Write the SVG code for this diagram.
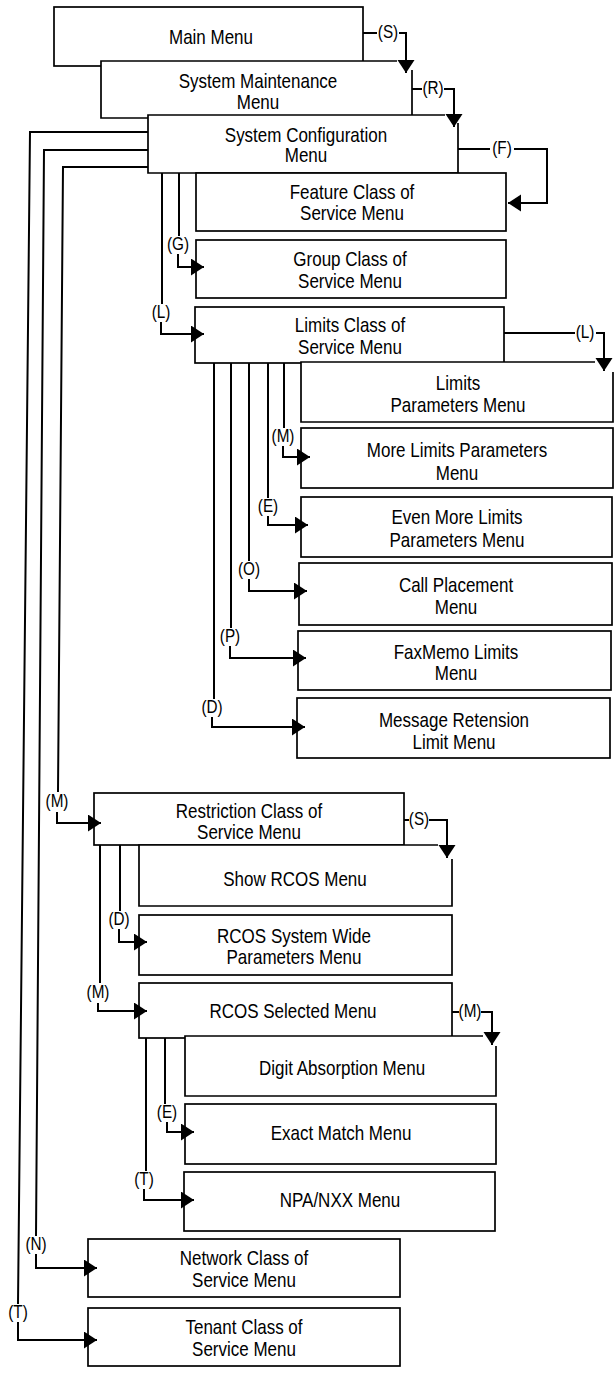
<svg xmlns="http://www.w3.org/2000/svg" width="615" height="1374" viewBox="0 0 615 1374">
<style>
.box{fill:#fff;stroke:#000;stroke-width:1.7}
.c{fill:none;stroke:#000;stroke-width:2}
.t{font-family:"Liberation Sans",Arial,sans-serif;font-size:20px;text-anchor:middle;fill:#000}
.l{font-family:"Liberation Sans",Arial,sans-serif;font-size:18px;text-anchor:middle;fill:#000}
</style>
<defs>
<marker id="ah" markerUnits="userSpaceOnUse" markerWidth="15" markerHeight="18" refX="13" refY="8.5" orient="auto">
<path d="M0,0 L13,8.5 L0,17 z" fill="#000"/>
</marker>
</defs>
<rect width="615" height="1374" fill="#fff"/>

<g id="main-menu"><rect class="box" x="54" y="7" width="309" height="59"/><text class="t" transform="translate(211,44) scale(0.85,1)">Main Menu</text></g>
<g id="system-maintenance"><path class="box" d="M412,70 V118 H101 V61 H397"/><text class="t" transform="translate(258,88) scale(0.85,1)">System Maintenance</text><text class="t" transform="translate(258,109) scale(0.85,1)">Menu</text></g>
<g id="system-configuration"><path class="box" d="M458,123 V173 H148 V115 H445"/><text class="t" transform="translate(306,142) scale(0.85,1)">System Configuration</text><text class="t" transform="translate(306,162) scale(0.85,1)">Menu</text></g>
<g id="feature-cos"><rect class="box" x="196" y="173" width="310" height="58"/><text class="t" transform="translate(352,199) scale(0.85,1)">Feature Class of</text><text class="t" transform="translate(352,220) scale(0.85,1)">Service Menu</text></g>
<g id="group-cos"><rect class="box" x="196" y="240" width="310" height="58"/><text class="t" transform="translate(350,266) scale(0.85,1)">Group Class of</text><text class="t" transform="translate(350,288) scale(0.85,1)">Service Menu</text></g>
<g id="limits-cos"><rect class="box" x="195" y="307" width="309" height="56"/><text class="t" transform="translate(350,332) scale(0.85,1)">Limits Class of</text><text class="t" transform="translate(350,354) scale(0.85,1)">Service Menu</text></g>
<g id="limits-parameters"><path class="box" d="M613,372 V422 H301 V362 H595"/><text class="t" transform="translate(458,390) scale(0.85,1)">Limits</text><text class="t" transform="translate(458,412) scale(0.85,1)">Parameters Menu</text></g>
<g id="more-limits"><rect class="box" x="301" y="428" width="312" height="60"/><text class="t" transform="translate(457,457) scale(0.85,1)">More Limits Parameters</text><text class="t" transform="translate(457,480) scale(0.85,1)">Menu</text></g>
<g id="even-more-limits"><rect class="box" x="301" y="497" width="311" height="60"/><text class="t" transform="translate(457,524) scale(0.85,1)">Even More Limits</text><text class="t" transform="translate(457,547) scale(0.85,1)">Parameters Menu</text></g>
<g id="call-placement"><rect class="box" x="299" y="563" width="313" height="62"/><text class="t" transform="translate(456,592) scale(0.85,1)">Call Placement</text><text class="t" transform="translate(456,614) scale(0.85,1)">Menu</text></g>
<g id="faxmemo-limits"><rect class="box" x="298" y="631" width="313" height="59"/><text class="t" transform="translate(456,659) scale(0.85,1)">FaxMemo Limits</text><text class="t" transform="translate(456,680) scale(0.85,1)">Menu</text></g>
<g id="message-retension"><rect class="box" x="297" y="698" width="313" height="60"/><text class="t" transform="translate(454,727) scale(0.85,1)">Message Retension</text><text class="t" transform="translate(454,749) scale(0.85,1)">Limit Menu</text></g>
<g id="restriction-cos"><rect class="box" x="94" y="793" width="310" height="52"/><text class="t" transform="translate(249,818) scale(0.85,1)">Restriction Class of</text><text class="t" transform="translate(249,839) scale(0.85,1)">Service Menu</text></g>
<g id="show-rcos"><path class="box" d="M452,859 V906 H139 V845 H438"/><text class="t" transform="translate(295,886) scale(0.85,1)">Show RCOS Menu</text></g>
<g id="rcos-system-wide"><rect class="box" x="139" y="915" width="313" height="60"/><text class="t" transform="translate(294,943) scale(0.85,1)">RCOS System Wide</text><text class="t" transform="translate(294,964) scale(0.85,1)">Parameters Menu</text></g>
<g id="rcos-selected"><rect class="box" x="139" y="983" width="313" height="55"/><text class="t" transform="translate(293,1018) scale(0.85,1)">RCOS Selected Menu</text></g>
<g id="digit-absorption"><path class="box" d="M496,1046 V1096 H185 V1036 H483"/><text class="t" transform="translate(342,1075) scale(0.85,1)">Digit Absorption Menu</text></g>
<g id="exact-match"><rect class="box" x="185" y="1104" width="311" height="60"/><text class="t" transform="translate(341,1140) scale(0.85,1)">Exact Match Menu</text></g>
<g id="npa-nxx"><rect class="box" x="184" y="1172" width="311" height="59"/><text class="t" transform="translate(340,1207) scale(0.85,1)">NPA/NXX Menu</text></g>
<g id="network-cos"><rect class="box" x="88" y="1239" width="312" height="58"/><text class="t" transform="translate(244,1265) scale(0.85,1)">Network Class of</text><text class="t" transform="translate(244,1287) scale(0.85,1)">Service Menu</text></g>
<g id="tenant-cos"><rect class="box" x="88" y="1308" width="312" height="58"/><text class="t" transform="translate(244,1334) scale(0.85,1)">Tenant Class of</text><text class="t" transform="translate(244,1356) scale(0.85,1)">Service Menu</text></g>

<g id="connectors">
<path class="c" d="M363,33 H377"/><path class="c" d="M399,33 H406 V73" marker-end="url(#ah)"/>
<text class="l" transform="translate(388,38) scale(0.85,1)">(S)</text>
<path class="c" d="M412,89 H422"/><path class="c" d="M444,89 H454 V127" marker-end="url(#ah)"/>
<text class="l" transform="translate(433,94) scale(0.85,1)">(R)</text>
<path class="c" d="M458,149 H490"/><path class="c" d="M514,149 H547 V203 H508" marker-end="url(#ah)"/>
<text class="l" transform="translate(502,154) scale(0.85,1)">(F)</text>
<path class="c" d="M179,173 V236"/><path class="c" d="M178,254 V267 H204" marker-end="url(#ah)"/>
<text class="l" transform="translate(178,250) scale(0.85,1)">(G)</text>
<path class="c" d="M162,173 V304"/><path class="c" d="M161,322 V334 H204" marker-end="url(#ah)"/>
<text class="l" transform="translate(161,318) scale(0.85,1)">(L)</text>
<path class="c" d="M504,333 H575"/><path class="c" d="M596,333 H604 V371" marker-end="url(#ah)"/>
<text class="l" transform="translate(585,338) scale(0.85,1)">(L)</text>
<path class="c" d="M284,363 V428"/><path class="c" d="M283,446 V457 H310" marker-end="url(#ah)"/>
<text class="l" transform="translate(283,442) scale(0.85,1)">(M)</text>
<path class="c" d="M268,363 V498"/><path class="c" d="M268,516 V525 H308" marker-end="url(#ah)"/>
<text class="l" transform="translate(268,512) scale(0.85,1)">(E)</text>
<path class="c" d="M249,363 V561"/><path class="c" d="M249,579 V591 H307" marker-end="url(#ah)"/>
<text class="l" transform="translate(249,575) scale(0.85,1)">(O)</text>
<path class="c" d="M231,363 V628"/><path class="c" d="M230,646 V658 H306" marker-end="url(#ah)"/>
<text class="l" transform="translate(230,642) scale(0.85,1)">(P)</text>
<path class="c" d="M214,363 V699"/><path class="c" d="M212,717 V727 H305" marker-end="url(#ah)"/>
<text class="l" transform="translate(212,713) scale(0.85,1)">(D)</text>
<path class="c" d="M148,167 H63 L58,792"/><path class="c" d="M57,812 V823 H101" marker-end="url(#ah)"/>
<text class="l" transform="translate(57,807) scale(0.85,1)">(M)</text>
<path class="c" d="M404,820 H409"/><path class="c" d="M429,820 H447 V858" marker-end="url(#ah)"/>
<text class="l" transform="translate(419,825) scale(0.85,1)">(S)</text>
<path class="c" d="M120,845 V911"/><path class="c" d="M119,929 V942 H147" marker-end="url(#ah)"/>
<text class="l" transform="translate(119,925) scale(0.85,1)">(D)</text>
<path class="c" d="M100,845 V983"/><path class="c" d="M98,1003 V1011 H147" marker-end="url(#ah)"/>
<text class="l" transform="translate(98,998) scale(0.85,1)">(M)</text>
<path class="c" d="M452,1012 H459"/><path class="c" d="M481,1012 H492 V1045" marker-end="url(#ah)"/>
<text class="l" transform="translate(470,1017) scale(0.85,1)">(M)</text>
<path class="c" d="M165,1038 V1104"/><path class="c" d="M167,1122 V1132 H194" marker-end="url(#ah)"/>
<text class="l" transform="translate(167,1118) scale(0.85,1)">(E)</text>
<path class="c" d="M146,1038 V1171"/><path class="c" d="M144,1189 V1200 H194" marker-end="url(#ah)"/>
<text class="l" transform="translate(144,1185) scale(0.85,1)">(T)</text>
<path class="c" d="M148,150 H44 L36,1236"/><path class="c" d="M36,1254 V1268 H97" marker-end="url(#ah)"/>
<text class="l" transform="translate(36,1250) scale(0.85,1)">(N)</text>
<path class="c" d="M148,132 H30 L18,1304"/><path class="c" d="M18,1322 V1340 H97" marker-end="url(#ah)"/>
<text class="l" transform="translate(18,1318) scale(0.85,1)">(T)</text>
</g>
</svg>
